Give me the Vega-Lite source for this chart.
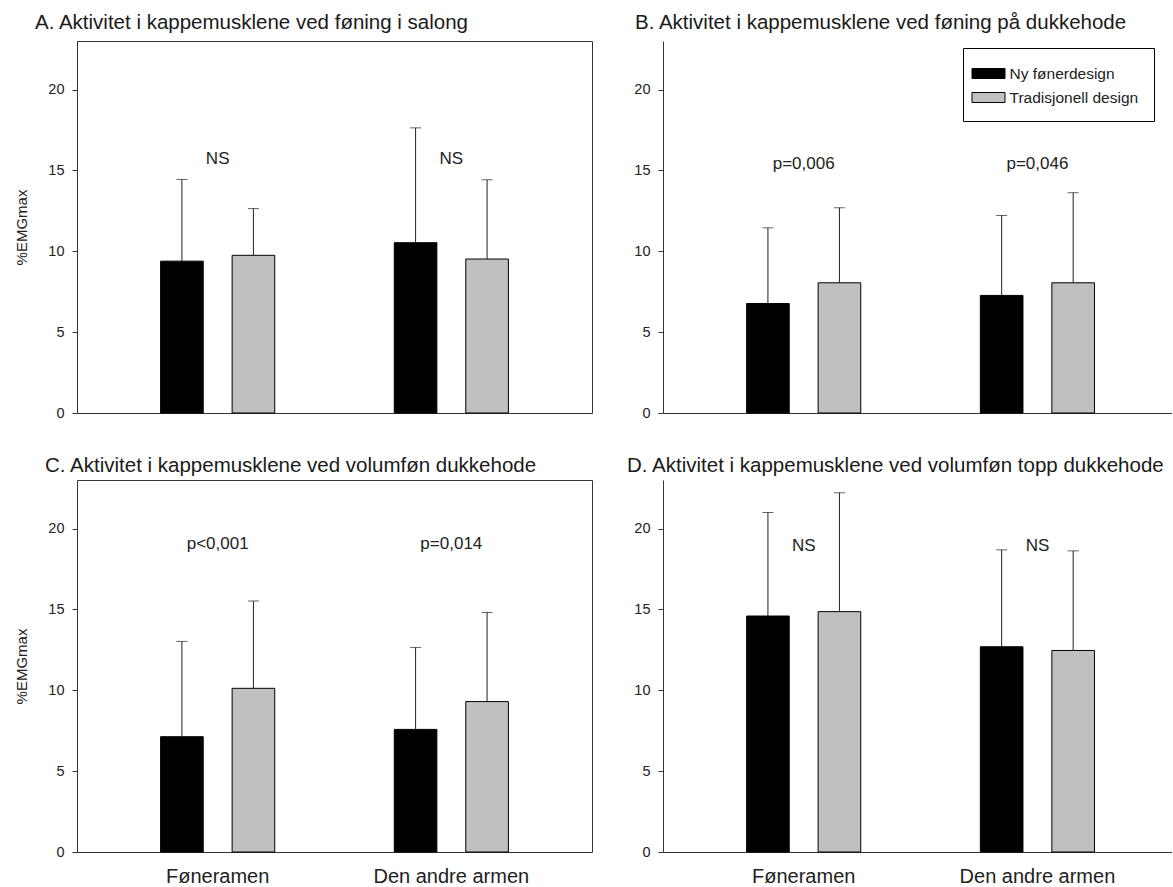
{
  "$schema": "https://vega.github.io/schema/vega-lite/v6.json",
  "padding": {"left": 14, "top": 12, "right": 0, "bottom": 0},
  "config": {
    "font": "Liberation Sans",
    "view": {"stroke": "#333", "strokeWidth": 1},
    "axis": {"grid": false, "domainColor": "#333", "tickColor": "#333", "labelColor": "#222", "labelFontSize": 14.5, "titleFontSize": 15, "titleFontWeight": "normal", "titleColor": "#222", "labelFont": "Liberation Sans", "titleFont": "Liberation Sans"},
    "title": {"fontSize": 20.5, "fontWeight": "normal", "anchor": "start", "frame": "group", "color": "#1a1a1a", "font": "Liberation Sans"}
  },
  "datasets": {
    "bars": [
      {"panel": "A", "arm": "Føneramen", "design": "Ny fønerdesign", "mean": 9.39, "upper": 14.44},
      {"panel": "A", "arm": "Føneramen", "design": "Tradisjonell design", "mean": 9.75, "upper": 12.64},
      {"panel": "A", "arm": "Den andre armen", "design": "Ny fønerdesign", "mean": 10.53, "upper": 17.63},
      {"panel": "A", "arm": "Den andre armen", "design": "Tradisjonell design", "mean": 9.52, "upper": 14.42},
      {"panel": "B", "arm": "Føneramen", "design": "Ny fønerdesign", "mean": 6.77, "upper": 11.45},
      {"panel": "B", "arm": "Føneramen", "design": "Tradisjonell design", "mean": 8.05, "upper": 12.69},
      {"panel": "B", "arm": "Den andre armen", "design": "Ny fønerdesign", "mean": 7.27, "upper": 12.21},
      {"panel": "B", "arm": "Den andre armen", "design": "Tradisjonell design", "mean": 8.05, "upper": 13.62},
      {"panel": "C", "arm": "Føneramen", "design": "Ny fønerdesign", "mean": 7.13, "upper": 13.02},
      {"panel": "C", "arm": "Føneramen", "design": "Tradisjonell design", "mean": 10.12, "upper": 15.52},
      {"panel": "C", "arm": "Den andre armen", "design": "Ny fønerdesign", "mean": 7.58, "upper": 12.64},
      {"panel": "C", "arm": "Den andre armen", "design": "Tradisjonell design", "mean": 9.3, "upper": 14.81},
      {"panel": "D", "arm": "Føneramen", "design": "Ny fønerdesign", "mean": 14.59, "upper": 20.99},
      {"panel": "D", "arm": "Føneramen", "design": "Tradisjonell design", "mean": 14.86, "upper": 22.21},
      {"panel": "D", "arm": "Den andre armen", "design": "Ny fønerdesign", "mean": 12.69, "upper": 18.68},
      {"panel": "D", "arm": "Den andre armen", "design": "Tradisjonell design", "mean": 12.46, "upper": 18.62}
    ],
    "notes": [
      {"panel": "A", "arm": "Føneramen", "pos": 15.7, "label": "NS"},
      {"panel": "A", "arm": "Den andre armen", "pos": 15.7, "label": "NS"},
      {"panel": "B", "arm": "Føneramen", "pos": 15.38, "label": "p=0,006"},
      {"panel": "B", "arm": "Den andre armen", "pos": 15.38, "label": "p=0,046"},
      {"panel": "C", "arm": "Føneramen", "pos": 19.07, "label": "p<0,001"},
      {"panel": "C", "arm": "Den andre armen", "pos": 19.07, "label": "p=0,014"},
      {"panel": "D", "arm": "Føneramen", "pos": 18.95, "label": "NS"},
      {"panel": "D", "arm": "Den andre armen", "pos": 18.95, "label": "NS"}
    ]
  },
  "columns": 2,
  "bounds": "flush",
  "spacing": {"row": 67, "column": 71},
  "resolve": {"scale": {"fill": "independent"}, "legend": {"fill": "independent"}},
  "concat": [
    {
      "width": 515, "height": 372,
      "title": {"text": "A. Aktivitet i kappemusklene ved føning i salong", "dx": -42, "offset": 8},
      "layer": [
        {
          "data": {"name": "bars"}, "transform": [{"filter": "datum.panel === 'A'"}],
          "mark": {"type": "bar", "stroke": "#000", "strokeWidth": 1},
          "encoding": {
            "x": {"field": "arm", "type": "nominal", "sort": ["Føneramen", "Den andre armen"], "scale": {"paddingInner": 0.328, "paddingOuter": 0.266}, "axis": {"title": null, "labels": false, "ticks": false, "domain": false}},
            "xOffset": {"field": "design", "type": "nominal", "sort": ["Ny fønerdesign", "Tradisjonell design"], "scale": {"paddingInner": 0.404, "paddingOuter": 0.3}},
            "y": {"field": "mean", "type": "quantitative", "scale": {"domain": [0, 23], "nice": false}, "axis": {"values": [0, 5, 10, 15, 20], "title": "%EMGmax", "domain": false, "tickSize": 5, "labelPadding": 8, "titlePadding": 18}},
            "fill": {"field": "design", "type": "nominal", "scale": {"domain": ["Ny fønerdesign", "Tradisjonell design"], "range": ["#000000", "#c0c0c0"]}, "legend": null}
          }
        },
        {
          "data": {"name": "bars"}, "transform": [{"filter": "datum.panel === 'A'"}],
          "mark": {"type": "rule", "color": "#222", "strokeWidth": 1},
          "encoding": {
            "x": {"field": "arm", "type": "nominal", "sort": ["Føneramen", "Den andre armen"]},
            "xOffset": {"field": "design", "type": "nominal", "sort": ["Ny fønerdesign", "Tradisjonell design"]},
            "y": {"field": "mean", "type": "quantitative"},
            "y2": {"field": "upper"}
          }
        },
        {
          "data": {"name": "bars"}, "transform": [{"filter": "datum.panel === 'A'"}],
          "mark": {"type": "tick", "color": "#222", "thickness": 1, "size": 11, "orient": "horizontal"},
          "encoding": {
            "x": {"field": "arm", "type": "nominal", "sort": ["Føneramen", "Den andre armen"]},
            "xOffset": {"field": "design", "type": "nominal", "sort": ["Ny fønerdesign", "Tradisjonell design"]},
            "y": {"field": "upper", "type": "quantitative"}
          }
        },
        {
          "data": {"name": "notes"}, "transform": [{"filter": "datum.panel === 'A'"}],
          "mark": {"type": "text", "fontSize": 17, "color": "#222", "baseline": "middle"},
          "encoding": {
            "x": {"field": "arm", "type": "nominal", "sort": ["Føneramen", "Den andre armen"]},
            "y": {"field": "pos", "type": "quantitative"},
            "text": {"field": "label"}
          }
        }
      ]
    },
    {
      "width": 509, "height": 372,
      "view": {"stroke": null},
      "title": {"text": "B. Aktivitet i kappemusklene ved føning på dukkehode", "dx": -28, "offset": 8},
      "layer": [
        {
          "data": {"name": "bars"}, "transform": [{"filter": "datum.panel === 'B'"}],
          "mark": {"type": "bar", "stroke": "#000", "strokeWidth": 1},
          "encoding": {
            "x": {"field": "arm", "type": "nominal", "sort": ["Føneramen", "Den andre armen"], "scale": {"paddingInner": 0.328, "paddingOuter": 0.2528, "align": 0.526}, "axis": {"title": null, "labels": false, "ticks": false, "domain": true}},
            "xOffset": {"field": "design", "type": "nominal", "sort": ["Ny fønerdesign", "Tradisjonell design"], "scale": {"paddingInner": 0.404, "paddingOuter": 0.3}},
            "y": {"field": "mean", "type": "quantitative", "scale": {"domain": [0, 23], "nice": false}, "axis": {"values": [0, 5, 10, 15, 20], "title": null, "domain": true, "tickSize": 5, "labelPadding": 8}},
            "fill": {"field": "design", "type": "nominal", "scale": {"domain": ["Ny fønerdesign", "Tradisjonell design"], "range": ["#000000", "#c0c0c0"]},
              "legend": {"orient": "none", "legendX": 300, "legendY": 7, "title": null, "symbolType": "M-1.65,-0.5H1.65V0.5H-1.65Z", "symbolSize": 400, "symbolStrokeColor": "#000", "symbolStrokeWidth": 1, "labelFontSize": 15.5, "labelColor": "#222", "labelFont": "Liberation Sans", "labelOffset": 10.5, "rowPadding": 5, "padding": 15, "strokeColor": "#000", "fillColor": "#ffffff"}}
          }
        },
        {
          "data": {"name": "bars"}, "transform": [{"filter": "datum.panel === 'B'"}],
          "mark": {"type": "rule", "color": "#222", "strokeWidth": 1},
          "encoding": {
            "x": {"field": "arm", "type": "nominal", "sort": ["Føneramen", "Den andre armen"]},
            "xOffset": {"field": "design", "type": "nominal", "sort": ["Ny fønerdesign", "Tradisjonell design"]},
            "y": {"field": "mean", "type": "quantitative"},
            "y2": {"field": "upper"}
          }
        },
        {
          "data": {"name": "bars"}, "transform": [{"filter": "datum.panel === 'B'"}],
          "mark": {"type": "tick", "color": "#222", "thickness": 1, "size": 11, "orient": "horizontal"},
          "encoding": {
            "x": {"field": "arm", "type": "nominal", "sort": ["Føneramen", "Den andre armen"]},
            "xOffset": {"field": "design", "type": "nominal", "sort": ["Ny fønerdesign", "Tradisjonell design"]},
            "y": {"field": "upper", "type": "quantitative"}
          }
        },
        {
          "data": {"name": "notes"}, "transform": [{"filter": "datum.panel === 'B'"}],
          "mark": {"type": "text", "fontSize": 17, "color": "#222", "baseline": "middle"},
          "encoding": {
            "x": {"field": "arm", "type": "nominal", "sort": ["Føneramen", "Den andre armen"]},
            "y": {"field": "pos", "type": "quantitative"},
            "text": {"field": "label"}
          }
        },
        {
          "mark": {"type": "rule", "color": "#333", "strokeWidth": 1},
          "encoding": {"y": {"datum": 23, "type": "quantitative"}}
        }
      ]
    },
    {
      "width": 515, "height": 372,
      "title": {"text": "C. Aktivitet i kappemusklene ved volumføn dukkehode", "dx": -32, "offset": 4},
      "layer": [
        {
          "data": {"name": "bars"}, "transform": [{"filter": "datum.panel === 'C'"}],
          "mark": {"type": "bar", "stroke": "#000", "strokeWidth": 1},
          "encoding": {
            "x": {"field": "arm", "type": "nominal", "sort": ["Føneramen", "Den andre armen"], "scale": {"paddingInner": 0.328, "paddingOuter": 0.266}, "axis": {"title": null, "labels": true, "labelAngle": 0, "labelFontSize": 20, "labelPadding": 14, "ticks": false, "tickSize": 0, "domain": false}},
            "xOffset": {"field": "design", "type": "nominal", "sort": ["Ny fønerdesign", "Tradisjonell design"], "scale": {"paddingInner": 0.404, "paddingOuter": 0.3}},
            "y": {"field": "mean", "type": "quantitative", "scale": {"domain": [0, 23], "nice": false}, "axis": {"values": [0, 5, 10, 15, 20], "title": "%EMGmax", "domain": false, "tickSize": 5, "labelPadding": 8, "titlePadding": 18}},
            "fill": {"field": "design", "type": "nominal", "scale": {"domain": ["Ny fønerdesign", "Tradisjonell design"], "range": ["#000000", "#c0c0c0"]}, "legend": null}
          }
        },
        {
          "data": {"name": "bars"}, "transform": [{"filter": "datum.panel === 'C'"}],
          "mark": {"type": "rule", "color": "#222", "strokeWidth": 1},
          "encoding": {
            "x": {"field": "arm", "type": "nominal", "sort": ["Føneramen", "Den andre armen"]},
            "xOffset": {"field": "design", "type": "nominal", "sort": ["Ny fønerdesign", "Tradisjonell design"]},
            "y": {"field": "mean", "type": "quantitative"},
            "y2": {"field": "upper"}
          }
        },
        {
          "data": {"name": "bars"}, "transform": [{"filter": "datum.panel === 'C'"}],
          "mark": {"type": "tick", "color": "#222", "thickness": 1, "size": 11, "orient": "horizontal"},
          "encoding": {
            "x": {"field": "arm", "type": "nominal", "sort": ["Føneramen", "Den andre armen"]},
            "xOffset": {"field": "design", "type": "nominal", "sort": ["Ny fønerdesign", "Tradisjonell design"]},
            "y": {"field": "upper", "type": "quantitative"}
          }
        },
        {
          "data": {"name": "notes"}, "transform": [{"filter": "datum.panel === 'C'"}],
          "mark": {"type": "text", "fontSize": 17, "color": "#222", "baseline": "middle"},
          "encoding": {
            "x": {"field": "arm", "type": "nominal", "sort": ["Føneramen", "Den andre armen"]},
            "y": {"field": "pos", "type": "quantitative"},
            "text": {"field": "label"}
          }
        }
      ]
    },
    {
      "width": 509, "height": 372,
      "view": {"stroke": null},
      "title": {"text": "D. Aktivitet i kappemusklene ved volumføn topp dukkehode", "dx": -36, "offset": 4},
      "layer": [
        {
          "data": {"name": "bars"}, "transform": [{"filter": "datum.panel === 'D'"}],
          "mark": {"type": "bar", "stroke": "#000", "strokeWidth": 1},
          "encoding": {
            "x": {"field": "arm", "type": "nominal", "sort": ["Føneramen", "Den andre armen"], "scale": {"paddingInner": 0.328, "paddingOuter": 0.2528, "align": 0.526}, "axis": {"title": null, "labels": true, "labelAngle": 0, "labelFontSize": 20, "labelPadding": 14, "ticks": false, "tickSize": 0, "domain": true}},
            "xOffset": {"field": "design", "type": "nominal", "sort": ["Ny fønerdesign", "Tradisjonell design"], "scale": {"paddingInner": 0.404, "paddingOuter": 0.3}},
            "y": {"field": "mean", "type": "quantitative", "scale": {"domain": [0, 23], "nice": false}, "axis": {"values": [0, 5, 10, 15, 20], "title": null, "domain": true, "tickSize": 5, "labelPadding": 8}},
            "fill": {"field": "design", "type": "nominal", "scale": {"domain": ["Ny fønerdesign", "Tradisjonell design"], "range": ["#000000", "#c0c0c0"]}, "legend": null}
          }
        },
        {
          "data": {"name": "bars"}, "transform": [{"filter": "datum.panel === 'D'"}],
          "mark": {"type": "rule", "color": "#222", "strokeWidth": 1},
          "encoding": {
            "x": {"field": "arm", "type": "nominal", "sort": ["Føneramen", "Den andre armen"]},
            "xOffset": {"field": "design", "type": "nominal", "sort": ["Ny fønerdesign", "Tradisjonell design"]},
            "y": {"field": "mean", "type": "quantitative"},
            "y2": {"field": "upper"}
          }
        },
        {
          "data": {"name": "bars"}, "transform": [{"filter": "datum.panel === 'D'"}],
          "mark": {"type": "tick", "color": "#222", "thickness": 1, "size": 11, "orient": "horizontal"},
          "encoding": {
            "x": {"field": "arm", "type": "nominal", "sort": ["Føneramen", "Den andre armen"]},
            "xOffset": {"field": "design", "type": "nominal", "sort": ["Ny fønerdesign", "Tradisjonell design"]},
            "y": {"field": "upper", "type": "quantitative"}
          }
        },
        {
          "data": {"name": "notes"}, "transform": [{"filter": "datum.panel === 'D'"}],
          "mark": {"type": "text", "fontSize": 17, "color": "#222", "baseline": "middle"},
          "encoding": {
            "x": {"field": "arm", "type": "nominal", "sort": ["Føneramen", "Den andre armen"]},
            "y": {"field": "pos", "type": "quantitative"},
            "text": {"field": "label"}
          }
        },
        {
          "mark": {"type": "rule", "color": "#333", "strokeWidth": 1},
          "encoding": {"y": {"datum": 23, "type": "quantitative"}}
        }
      ]
    }
  ]
}
